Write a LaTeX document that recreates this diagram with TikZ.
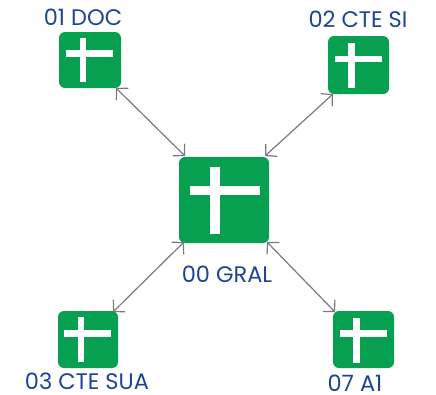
\documentclass[tikz,border=0pt]{standalone}
\usepackage{fontspec}
\setmainfont{Poppins}
\usetikzlibrary{arrows.meta}
\definecolor{boxgreen}{HTML}{07A050}
\definecolor{labelblue}{HTML}{1E4494}
\definecolor{linkgray}{HTML}{7A7A7A}
\tikzset{
  greenbox/.style={fill=boxgreen,draw=none,rounded corners=6pt,inner sep=0pt,outer sep=0pt},
  barpart/.style={fill=white,draw=none,inner sep=0pt,outer sep=0pt},
  lab/.style={text=labelblue,font=\fontsize{22.5}{25}\selectfont,inner sep=0pt},
  link/.style={draw=linkgray,line width=1.2pt,{Straight Barb[length=8pt,width=17pt,line width=1.2pt]}-{Straight Barb[length=8pt,width=17pt,line width=1.2pt]}}
}
\begin{document}
\begin{tikzpicture}[x=1pt,y=-1pt]
\useasboundingbox (0,0) rectangle (436,394);
\node[greenbox,minimum width=90pt,minimum height=86pt] (main) at (224,200) {};
\node[barpart,minimum width=10pt,minimum height=67pt] (mainv) at (215,200.5) {};
\node[barpart,minimum width=70pt,minimum height=9pt] (mainh) at (224.5,190.5) {};
\node[greenbox,minimum width=62pt,minimum height=56pt] (doc) at (90,60) {};
\node[barpart,minimum width=6.5pt,minimum height=44pt] (docv) at (83,60) {};
\node[barpart,minimum width=47pt,minimum height=7pt] (doch) at (89.5,53.5) {};
\node[greenbox,minimum width=61pt,minimum height=58pt] (si) at (358.5,65) {};
\node[barpart,minimum width=6.5pt,minimum height=45pt] (siv) at (351.5,65.5) {};
\node[barpart,minimum width=47pt,minimum height=6.5pt] (sih) at (358,59) {};
\node[greenbox,minimum width=60pt,minimum height=57pt] (sua) at (88,339.5) {};
\node[barpart,minimum width=6.5pt,minimum height=45pt] (suav) at (81,339.5) {};
\node[barpart,minimum width=47pt,minimum height=7pt] (suah) at (87.5,333.5) {};
\node[greenbox,minimum width=61pt,minimum height=57pt] (aone) at (363.5,339.5) {};
\node[barpart,minimum width=6.5pt,minimum height=45pt] (aonev) at (356.5,340) {};
\node[barpart,minimum width=47pt,minimum height=7pt] (aoneh) at (363.5,333.5) {};
\node[lab] (tdoc) at (83,17) {01 DOC};
\node[lab] (tsi) at (358,19) {02 CTE SI};
\node[lab] (tmain) at (227,274) {00 GRAL};
\node[lab] (tsua) at (87,381) {03 CTE SUA};
\node[lab] (tone) at (355,383) {07 A1};
\draw[link] ([xshift=-5pt]doc.south east) -- ([xshift=6pt,yshift=1pt]main.north west);
\draw[link] ([xshift=-56pt,yshift=0pt]si.south east) -- ([xshift=-4pt,yshift=1pt]main.north east);
\draw[link] ([xshift=-5pt,yshift=-1pt]sua.north east) -- ([xshift=5pt,yshift=1pt]main.south west);
\draw[link] ([xshift=2pt,yshift=-1pt]aone.north west) -- ([xshift=-2pt,yshift=1pt]main.south east);
\end{tikzpicture}
\end{document}
